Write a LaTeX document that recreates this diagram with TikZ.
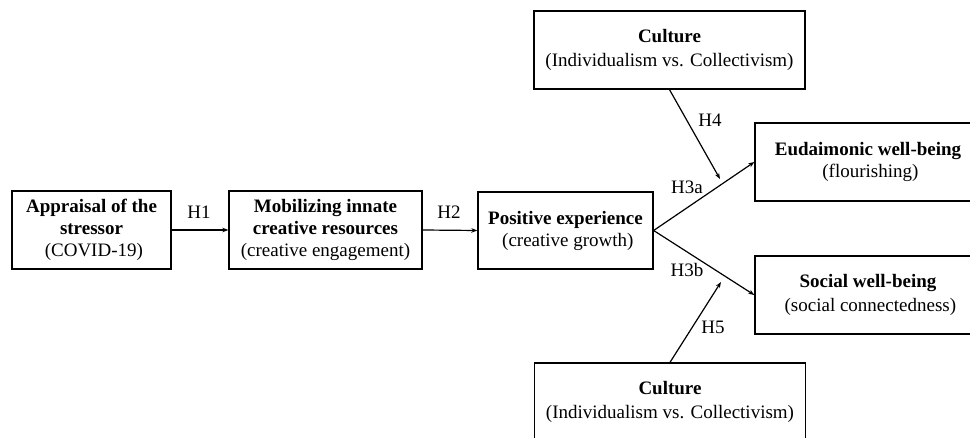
\documentclass[tikz,border=0pt]{standalone}
\usepackage{fontspec}
\setmainfont{Liberation Serif}
\usetikzlibrary{arrows.meta}
\begin{document}
\begin{tikzpicture}[x=1pt,y=-1pt,
  box/.style={draw,line width=1.3pt,rectangle,align=center,inner sep=0pt,
    font=\fontsize{19}{22}\selectfont},
  conn/.style={line width=1.2pt,-{Stealth[length=6pt,width=4.5pt]}},
  lab/.style={font=\fontsize{19}{22}\selectfont,inner sep=0pt}]
\useasboundingbox (0,0) rectangle (970,438);
\node[box,minimum width=159pt,minimum height=78pt] (b1) at (91.5,230)
  {\textbf{Appraisal of the}\\\textbf{stressor}\\\ (COVID-19)};
\node[box,minimum width=193pt,minimum height=78pt] (b2) at (325.5,230)
  {\textbf{Mobilizing innate}\\\textbf{creative resources}\\(creative engagement)};
\node[box,minimum width=175pt,minimum height=77pt] (b3) at (565.5,230.5)
  {\textbf{Positive experience}\\\ (creative growth)};
\node[box,minimum width=271pt,minimum height=78pt,font=\fontsize{19}{24}\selectfont] (c1) at (669.5,50)
  {\textbf{Culture}\\(Individualism vs. Collectivism)};
\node[box,minimum width=271pt,minimum height=78pt,font=\fontsize{19}{24}\selectfont] (c2) at (670,402)
  {\textbf{Culture}\\(Individualism vs. Collectivism)};
\node[box,minimum width=230pt,minimum height=78pt] (eud) at (870,162) {};
\node[lab,align=center,font=\fontsize{19}{22}\selectfont] (eudt) at (868,162)
  {\textbf{Eudaimonic well-being}\\\ (flourishing)};
\node[box,minimum width=230pt,minimum height=78pt] (soc) at (870,295) {};
\node[lab,align=center,font=\fontsize{19}{24}\selectfont] (soct) at (868,295)
  {\textbf{Social well-being}\\\ (social connectedness)};
\coordinate (t4) at (720,179);
\coordinate (t5) at (721,282);
\draw[conn] (b1.east) -- (b2.west);
\draw[conn] (b2.east) -- (b3.west);
\draw[conn] (b3.east) -- (eud.west);
\draw[conn] (b3.east) -- (soc.west);
\draw[conn] (c1.south) -- (t4);
\draw[conn] (c2.north) -- (t5);
\node[lab] (h1) at (199,212) {H1};
\node[lab] (h2) at (449,212) {H2};
\node[lab] (h3a) at (687,187) {H3a};
\node[lab] (h3b) at (687,270) {H3b};
\node[lab] (h4) at (710,120) {H4};
\node[lab] (h5) at (713,327) {H5};
\end{tikzpicture}
\end{document}
